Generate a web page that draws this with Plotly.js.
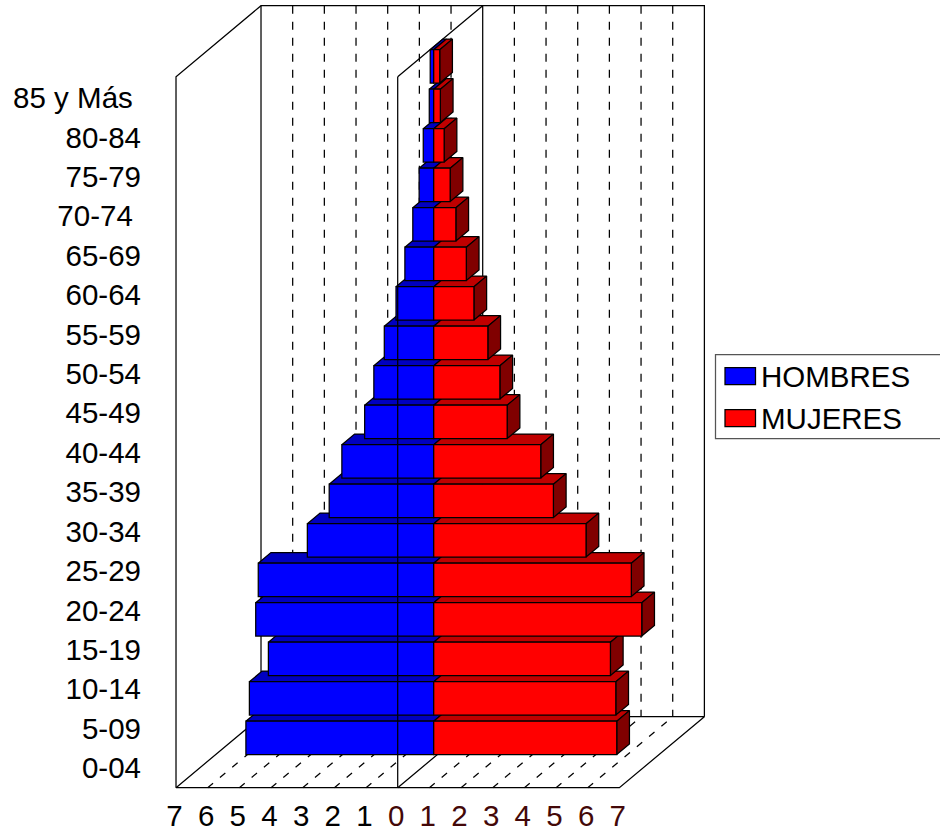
<!DOCTYPE html>
<html>
<head>
<meta charset="utf-8">
<script src="https://cdn.plot.ly/plotly-3.0.1.min.js"></script>
<style>html,body{margin:0;padding:0;background:#fff}#chart{width:940px;height:831px}</style>
</head>
<body>
<div id="chart"></div>
<script>
// ---- data (percent of population) ----
var categories = ['0-04','5-09','10-14','15-19','20-24','25-29','30-34','35-39','40-44','45-49','50-54','55-59','60-64','65-69','70-74\u00a0','75-79','80-84','85 y Más\u00a0'];
var hombres = [5.93,5.82,5.22,5.62,5.54,3.99,3.30,2.90,2.18,1.89,1.56,1.19,0.91,0.66,0.46,0.33,0.14,0.11];
var mujeres = [5.78,5.75,5.58,6.57,6.24,4.81,3.78,3.38,2.32,2.09,1.71,1.27,1.03,0.70,0.52,0.33,0.21,0.19];
var xTicks = [-7,-6,-5,-4,-3,-2,-1,0,1,2,3,4,5,6,7];

// ---- oblique projection ----
var W = 940, H = 795;
var X0 = 397.7, UX = 31.67, Y0 = 787.7, UY = 39.5;   // pixel of value 0 / category 0 and pixel size of a unit
var DX = 85 / UX, DY = 71 / UY;                      // full depth of the box in axis units
var N = categories.length;
var D0 = 36 / 85, D1 = 48.7 / 85;                    // depth of bar front / back
var GAP = 0.0785;                                    // gap below and above a bar
var LW = 1.25;
function px(v, c, d) { return [v + d * DX, c + d * DY]; }
function path(pts) {
  var xs = [], ys = [];
  pts.forEach(function (p) {
    if (p === null) { xs.push(null); ys.push(null); return; }
    var q = px(p[0], p[1], p[2]); xs.push(q[0]); ys.push(q[1]);
  });
  return { x: xs, y: ys };
}
function lineTrace(pts, dash, z) {
  var p = path(pts);
  return { type: 'scatter', mode: 'lines', x: p.x, y: p.y, hoverinfo: 'skip', showlegend: false, zorder: z || 0,
           line: { color: '#000', width: LW, dash: dash || 'solid' } };
}
function polyTrace(pts, color) {
  var p = path(pts);
  return { type: 'scatter', mode: 'lines', x: p.x, y: p.y, fill: 'toself', fillcolor: color, hoverinfo: 'skip',
           showlegend: false, line: { color: '#000', width: LW } };
}

var traces = [];
// box: walls and floor
var wall = [
  [-7,0,0],[7,0,0],[7,0,1],[-7,0,1],[-7,0,0],null,
  [-7,0,0],[-7,N,0],[-7,N,1],[7,N,1],[7,0,1],null,
  [-7,0,1],[-7,N,1],null,
  [0,0,0],[0,0,1],[0,N,1],[0,N,0]
];
traces.push(lineTrace(wall));
var dashes = [], floor = [];
xTicks.forEach(function (v) {
  if (Math.abs(v) === 7 || v === 0) return;
  dashes.push([v,N,1],[v,0,1],null);
  floor.push([v,0,0],[v,0,1],null);
});
traces.push(lineTrace(dashes, '8px,8px'));
traces.push(lineTrace(floor, '7px,9px'));

// bar tops and ends, from the lowest bar up
for (var i = 0; i < N; i++) {
  var t = i + 1 - GAP, b = i + GAP, m = -hombres[i], f = mujeres[i];
  traces.push(polyTrace([[m,t,D0],[0,t,D0],[0,t,D1],[m,t,D1],[m,t,D0]], '#0000C0'));
  traces.push(polyTrace([[0,t,D0],[f,t,D0],[f,t,D1],[0,t,D1],[0,t,D0]], '#C00000'));
  traces.push(polyTrace([[f,b,D0],[f,t,D0],[f,t,D1],[f,b,D1],[f,b,D0]], '#800000'));
}

// bar fronts
var yBars = categories.map(function (c, k) { return k + 0.5 + D0 * DY; });
traces.push({ type: 'bar', orientation: 'h', name: 'HOMBRES', y: yBars, x: hombres.map(function (v) { return -v; }),
  base: D0 * DX, width: 1 - 2 * GAP, zorder: 1, hoverinfo: 'skip', showlegend: false,
  marker: { color: '#0000FF', line: { color: '#000', width: LW } } });
traces.push({ type: 'bar', orientation: 'h', name: 'MUJERES', y: yBars, x: mujeres,
  base: D0 * DX, width: 1 - 2 * GAP, zorder: 1, hoverinfo: 'skip', showlegend: false,
  marker: { color: '#FF0000', line: { color: '#000', width: LW } } });
// front edge of the middle plane passes over the bars
traces.push(lineTrace([[0,0,0],[0,N,0]], 'solid', 2));

var tickText = xTicks.map(function (v) {
  return v >= 0 ? '<span style="color:#430808">' + v + '</span>' : String(-v);
});

function fx(p) { return p / W; }
function fy(p) { return 1 - p / H; }
function rect(x0, y0, x1, y1, fill, lineColor) {
  return { type: 'rect', xref: 'paper', yref: 'paper', x0: fx(x0), x1: fx(x1), y0: fy(y0), y1: fy(y1),
           fillcolor: fill, line: { color: lineColor, width: LW } };
}
function legendText(text, y) {
  return { xref: 'paper', yref: 'paper', x: fx(758.5), y: fy(y), xanchor: 'left', yanchor: 'middle', showarrow: false,
           text: text, font: { family: 'Liberation Sans, Arial, sans-serif', size: 29.5, color: '#000' } };
}

var layout = {
  width: W, height: 831, paper_bgcolor: '#fff', plot_bgcolor: 'rgba(0,0,0,0)', showlegend: false,
  barmode: 'overlay', margin: { l: 0, r: 0, t: 0, b: 831 - H, pad: 0 },
  font: { family: 'Liberation Sans, Arial, sans-serif', size: 29.5, color: '#000' },
  xaxis: { range: [(0 - X0) / UX, (W - X0) / UX], tickmode: 'array', tickvals: xTicks.map(function (v) { return v - 0.05; }),
           ticktext: tickText, showgrid: false, zeroline: false, showline: false, ticks: '', ticklen: 0, tickangle: 0, automargin: false,
           tickfont: { size: 29.5 } },
  yaxis: { range: [(Y0 - H) / UY, Y0 / UY], tickmode: 'array', tickvals: categories.map(function (c, k) { return k + 0.5 - 0.002 * k; }),
           ticktext: categories, showgrid: false, zeroline: false, showline: false, ticks: '', ticklen: 0, automargin: false,
           anchor: 'free', position: 141 / W, side: 'left', tickfont: { size: 29.5 } },
  shapes: [
    rect(715.5, 354.5, 945, 438.5, '#fff', '#555'),
    rect(725, 367.5, 755.5, 384.5, '#0000FF', '#000'),
    rect(725, 409.5, 755.5, 426.5, '#FF0000', '#000')
  ],
  annotations: [legendText('HOMBRES', 376), legendText('MUJERES', 418)]
};
Plotly.newPlot('chart', traces, layout, { staticPlot: true, displayModeBar: false });
</script>
</body>
</html>
